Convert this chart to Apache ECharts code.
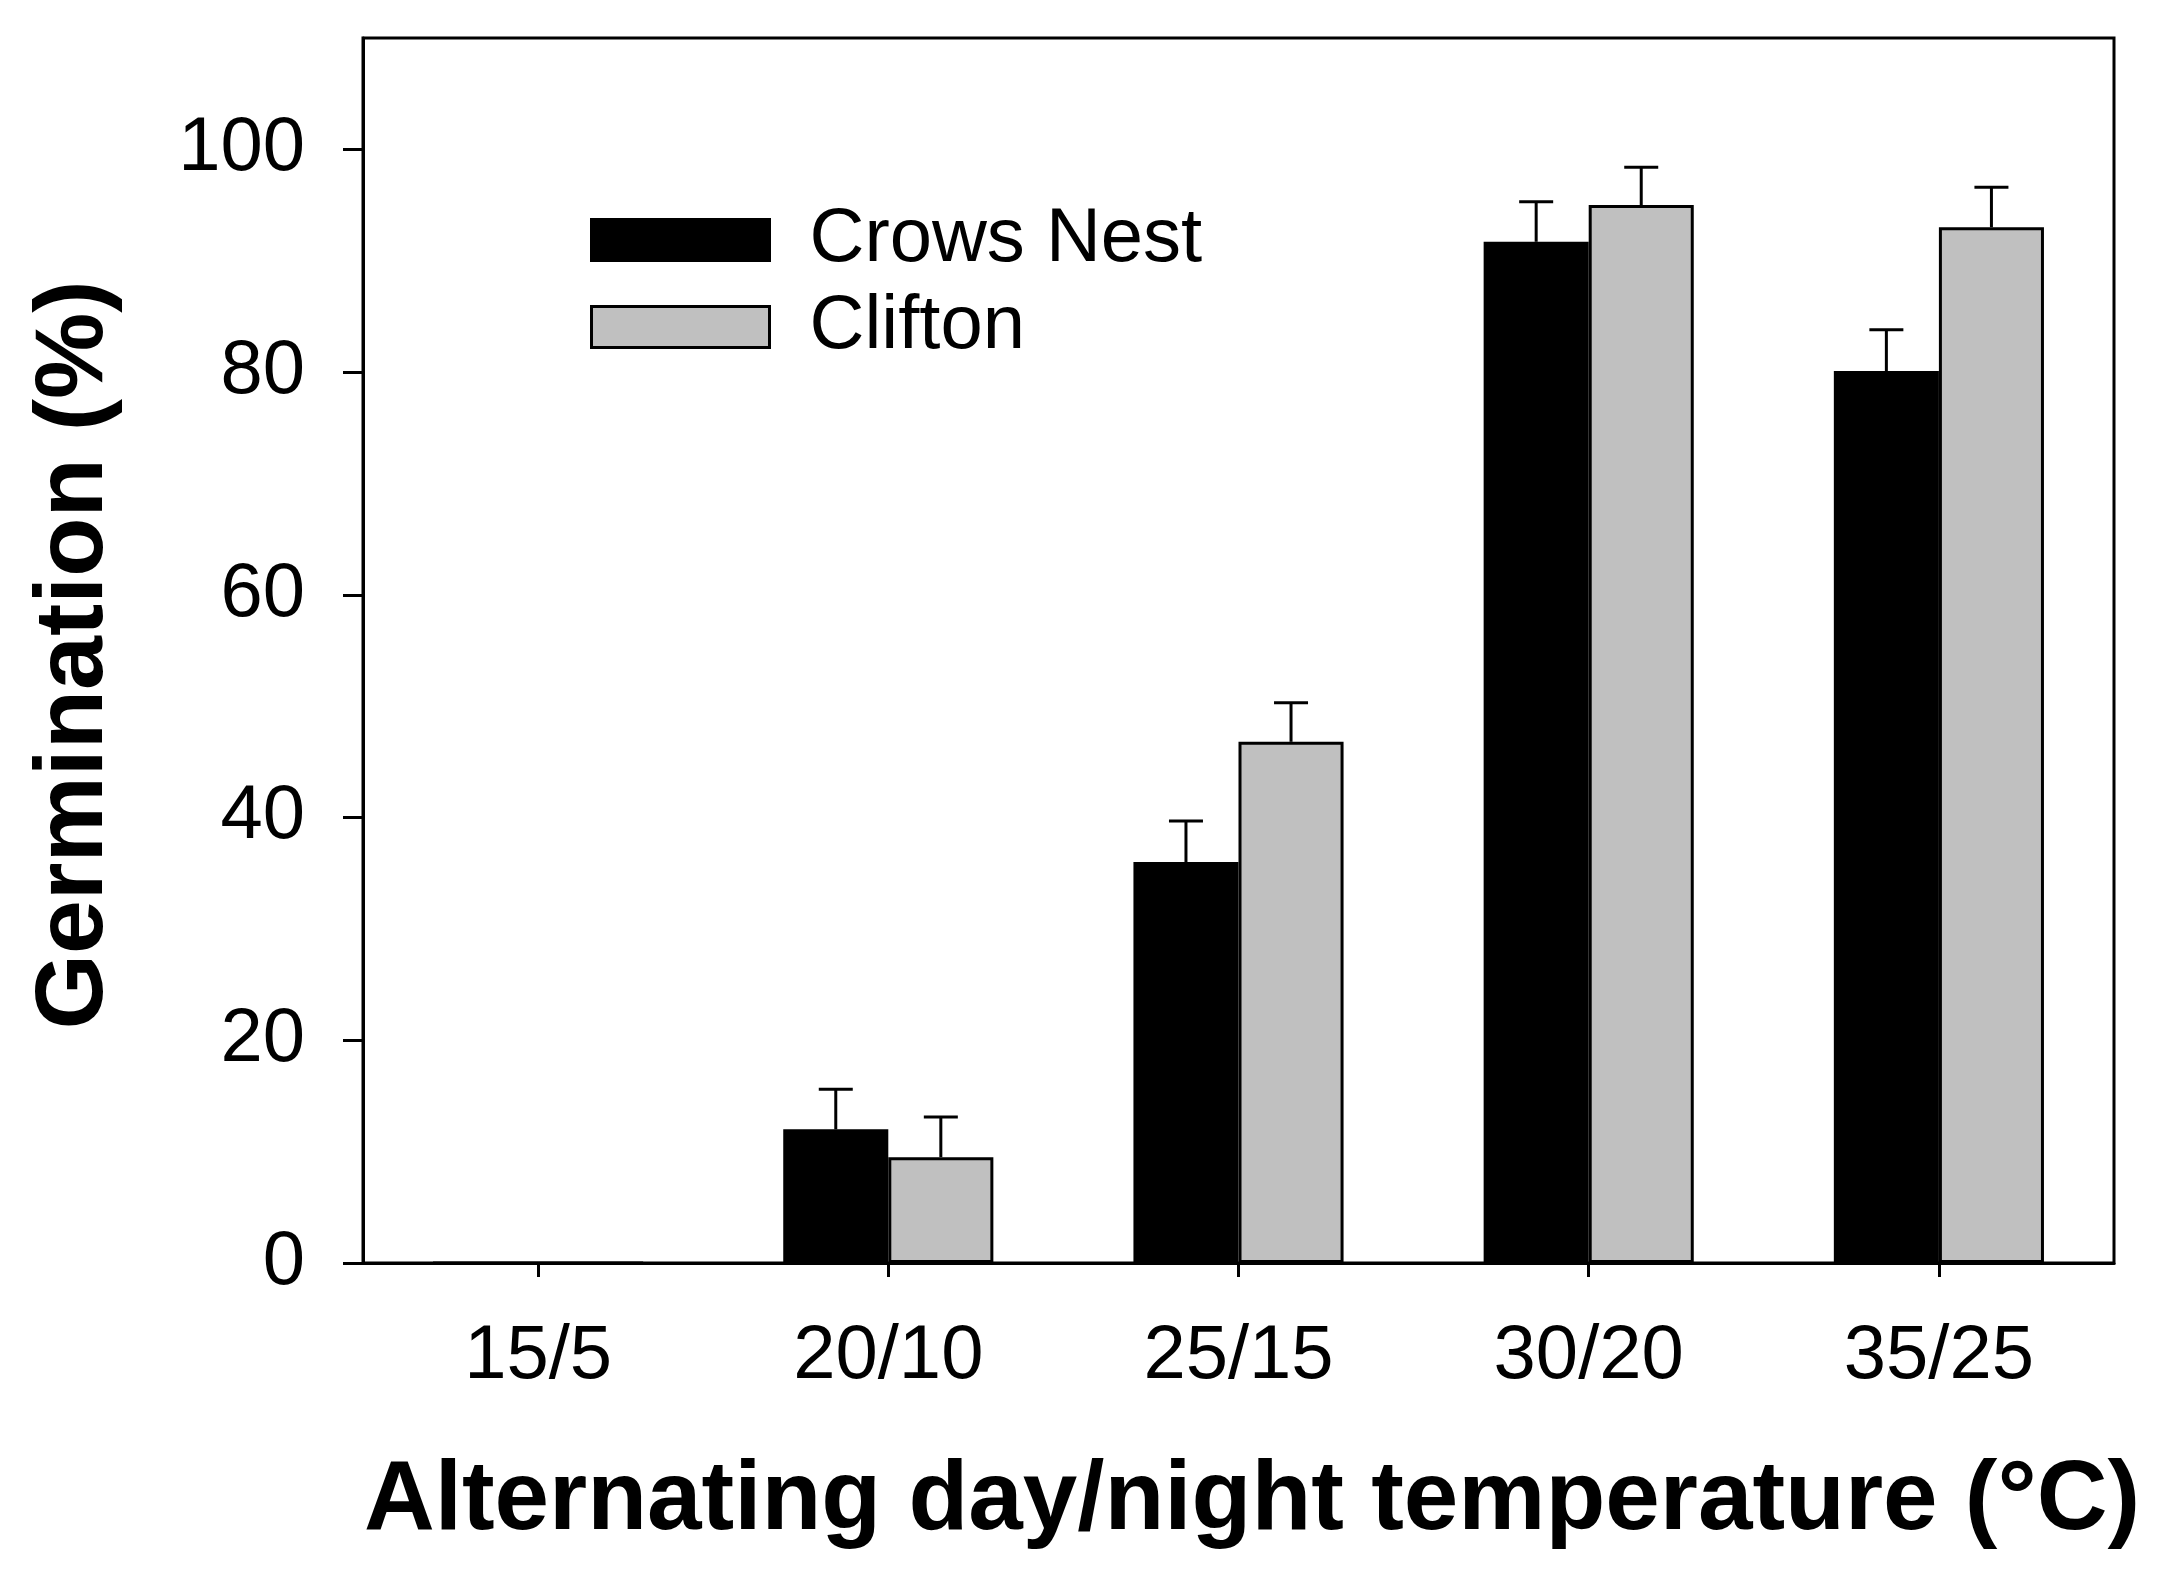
<!DOCTYPE html>
<html>
<head>
<meta charset="utf-8">
<script src="https://cdn.jsdelivr.net/npm/echarts@6/dist/echarts.min.js"></script>
<style>html,body{margin:0;padding:0;background:#fff;}#chart{width:2165px;height:1583px;}</style>
</head>
<body>
<div id="chart"></div>
<script>
const categories = ['15/5', '20/10', '25/15', '30/20', '35/25'];
const seriesNames = ['Crows Nest', 'Clifton'];
const crowsNest = [0, 12, 36, 91.7, 80.1];
const crowsNestErr = [0, 3.6, 3.7, 3.6, 3.7];
const clifton = [0, 9.5, 46.8, 95, 93];
const cliftonErr = [0, 3.6, 3.5, 3.4, 3.6];
const yTicks = [0, 20, 40, 60, 80, 100];

const FONT = '"Liberation Sans", Arial, sans-serif';
const errData = [];
[[crowsNest, crowsNestErr], [clifton, cliftonErr]].forEach(function (p, s) {
  p[0].forEach(function (v, i) { errData.push([i, v, p[1][i], s]); });
});

const chart = echarts.init(document.getElementById('chart'));
chart.setOption({
  backgroundColor: '#fff',
  animation: false,
  grid: { left: 363, right: 51, top: 38, bottom: 320, show: true, borderColor: '#000', borderWidth: 3, backgroundColor: 'transparent' },
  legend: {
    orient: 'vertical', left: 590, top: 202, padding: 0,
    itemWidth: 178, itemHeight: 41, itemGap: 11, icon: 'rect',
    textStyle: { fontFamily: FONT, fontSize: 76, color: '#000', lineHeight: 76, padding: [0, 0, 0, 35] },
    data: [
      { name: seriesNames[0], itemStyle: { color: '#000', borderColor: '#000', borderWidth: 3 } },
      { name: seriesNames[1], itemStyle: { color: '#c0c0c0', borderColor: '#000', borderWidth: 3 } }
    ]
  },
  xAxis: {
    type: 'category', data: categories, boundaryGap: true,
    axisLine: { show: true, lineStyle: { color: '#000', width: 3 } },
    axisTick: { show: true, alignWithLabel: true, length: 14, lineStyle: { color: '#000', width: 3 } },
    axisLabel: { fontFamily: FONT, fontSize: 76, color: '#000', margin: 56 },
    splitLine: { show: false }
  },
  yAxis: {
    type: 'value', min: 0, max: 110, interval: 20,
    axisLine: { show: true, lineStyle: { color: '#000', width: 3 } },
    axisTick: { show: true, length: 20, customValues: yTicks, lineStyle: { color: '#000', width: 3 } },
    axisLabel: { fontFamily: FONT, fontSize: 76, color: '#000', margin: 58, customValues: yTicks },
    splitLine: { show: false }
  },
  series: [
    { name: seriesNames[0], type: 'bar', data: crowsNest, barWidth: '30%', barGap: '0%',
      itemStyle: { color: '#000', borderColor: '#000', borderWidth: 3 } },
    { name: seriesNames[1], type: 'bar', data: clifton, barWidth: '30%', barGap: '0%',
      itemStyle: { color: '#c0c0c0', borderColor: '#000', borderWidth: 3 } },
    { name: 'err', type: 'custom', data: errData, z: 5,
      renderItem: function (params, api) {
        const ci = api.value(0), v = api.value(1), e = api.value(2), s = api.value(3);
        if (!(v > 0)) return;
        const band = api.size([1, 0])[0];
        const off = (s === 0 ? -1 : 1) * band * 0.15;
        const base = api.coord([ci, v]);
        const top = api.coord([ci, v + e]);
        const x = base[0] + off;
        return { type: 'group', children: [
          { type: 'line', shape: { x1: x, y1: base[1], x2: x, y2: top[1] }, style: { stroke: '#000', lineWidth: 3 } },
          { type: 'line', shape: { x1: x - 17, y1: top[1], x2: x + 17, y2: top[1] }, style: { stroke: '#000', lineWidth: 3 } }
        ]};
      }
    }
  ],
  graphic: [
    { type: 'text', x: 75, y: 655, rotation: Math.PI / 2,
      style: { text: 'Germination (%)', fontFamily: FONT, fontWeight: 'bold', fontSize: 97, fill: '#000', align: 'center', verticalAlign: 'middle' } },
    { type: 'text', x: 1252, y: 1502,
      style: { text: 'Alternating day/night temperature (°C)', fontFamily: FONT, fontWeight: 'bold', fontSize: 98, fill: '#000', align: 'center', verticalAlign: 'middle' } }
  ]
});
</script>
</body>
</html>
